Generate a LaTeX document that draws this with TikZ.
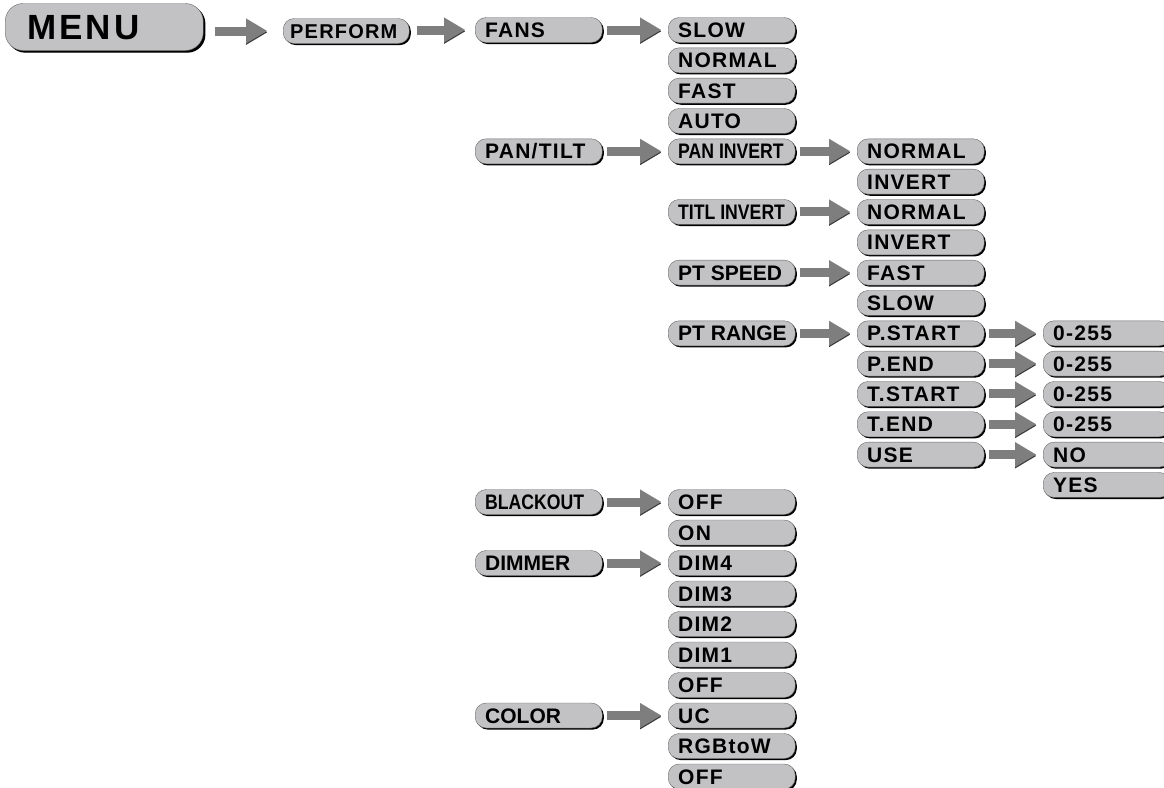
\documentclass[tikz,border=0pt]{standalone}
\usepackage{fontspec}
\setmainfont{Liberation Sans}
\newfontfamily\itemfont[LetterSpace=6]{Liberation Sans}
\newfontfamily\plainfont{Liberation Sans}
\newfontfamily\narrowfont[FakeStretch=0.84]{Liberation Sans}
\newfontfamily\menufont[LetterSpace=9]{Liberation Sans}
\usetikzlibrary{
  arrows.meta,
  shadows
}
\definecolor{boxgray}{RGB}{194,194,196}
\definecolor{arrowgray}{RGB}{126,126,126}
\tikzset{
  % Shared values used by the styles below.
  globals/box width/.initial=107pt,
  globals/box height/.initial=25pt,
%
  % For all menu entries: a grey pill with a dark shadow.  The text sits
  % left in a fixed box, so it never wraps.
  menu box/.style={
    draw=black!60,
    line width=0.4pt,
    fill=boxgray,
    rounded corners=11pt,
    anchor=west,
    inner xsep=10pt,
    inner ysep=0pt,
    minimum height=\pgfkeysvalueof{/tikz/globals/box height},
    execute at begin node={%
      \hbox to \pgfkeysvalueof{/tikz/globals/box width}\bgroup},
    execute at end node={\hss\egroup},
    text height=15pt,
    text depth=0pt,
    drop shadow={shadow xshift=1.6pt,
                 shadow yshift=-1.6pt,
                 fill=black,
                 opacity=1}},
%
  % Wide lettering.
  item/.style={
    menu box,
    font={\itemfont\bfseries\fontsize{21pt}{24pt}\selectfont}},
%
  % Plain lettering.
  tight/.style={
    menu box,
    font={\plainfont\bfseries\fontsize{21pt}{24pt}\selectfont}},
%
  % Condensed lettering.
  narrow/.style={
    menu box,
    font={\narrowfont\bfseries\fontsize{21pt}{24pt}\selectfont}},
%
  % For the big top entry.
  title/.style={
    menu box,
    rounded corners=18pt,
    inner xsep=22pt,
    globals/box width=154pt,
    minimum height=47pt,
    text height=25pt,
    drop shadow={shadow xshift=2.2pt,
                 shadow yshift=-2.2pt,
                 fill=black,
                 opacity=1},
    font={\menufont\bfseries\fontsize{35pt}{38pt}\selectfont}},
%
  % For the fat grey arrows.
  go/.style={
    draw=arrowgray,
    line width=9pt,
    -{Triangle[length=21pt,width=25pt,line width=0.1pt]},
    shorten <=5pt,
    shorten >=7pt,
    preaction={draw=black!80,
               transform canvas={yshift=-1.3pt}}}
}

\begin{document}
\begin{tikzpicture}[x=1pt,y=-1pt]
  \useasboundingbox (0,0) rectangle (1164,787);

  % Column positions (left edges).
  \def\colA{283}
  \def\colB{475}
  \def\colC{668}
  \def\colD{857}
  \def\colE{1043}

  \node[title] (menu) at (5,27) {MENU};
  \node[item, font={\itemfont\bfseries\fontsize{20pt}{24pt}\selectfont},
        inner xsep=7pt, globals/box width=112pt] (perform) at (\colA,31) {PERFORM};

  % Upper block, rows 30.33 apart.
  \node[item] (fans)    at (\colB,{30+30.33*0}) {FANS};
  \node[item] (pantilt) at (\colB,{30+30.33*4}) {PAN/TILT};

  \foreach \name/\txt [count=\i from 0] in
      {fslow/SLOW, fnormal/NORMAL, ffast/FAST, fauto/AUTO}
    {\node[item] (\name) at (\colC,{30+30.33*\i}) {\txt};}

  \node[narrow] (paninv)  at (\colC,{30+30.33*4})  {PAN INVERT};
  \node[narrow] (tiltinv) at (\colC,{30+30.33*6})  {TITL INVERT};
  \node[tight]  (ptspeed) at (\colC,{30+30.33*8})  {PT SPEED};
  \node[tight]  (ptrange) at (\colC,{30+30.33*10}) {PT RANGE};

  \foreach \name/\txt/\r in
      {pnormal/NORMAL/4, pinvert/INVERT/5,
       tnormal/NORMAL/6, tinvert/INVERT/7,
       sfast/FAST/8, sslow/SLOW/9,
       pstart/P.START/10, pend/P.END/11,
       tstart/T.START/12, tend/T.END/13,
       use/USE/14}
    {\node[item] (\name) at (\colD,{30+30.33*\r}) {\txt};}

  \foreach \name/\txt/\r in
      {vpstart/0-255/10, vpend/0-255/11,
       vtstart/0-255/12, vtend/0-255/13,
       useno/NO/14, useyes/YES/15}
    {\node[item] (\name) at (\colE,{30+30.33*\r}) {\txt};}

  % Lower block, rows 30.5 apart.
  \node[narrow] (blackout) at (\colB,{502+30.5*0}) {BLACKOUT};
  \node[tight]  (dimmer)   at (\colB,{502+30.5*2}) {DIMMER};
  \node[tight]  (color)    at (\colB,{502+30.5*7}) {COLOR};

  \foreach \name/\txt [count=\j from 0] in
      {boff/OFF, bon/ON, dfour/DIM4, dthree/DIM3, dtwo/DIM2,
       done/DIM1, doff/OFF, cuc/UC, crgb/RGBtoW, coff/OFF}
    {\node[item] (\name) at (\colC,{502+30.5*\j}) {\txt};}

  % Arrows.
  \draw[go, shorten <=12pt, shorten >=16pt]
    (menu.east |- perform.west) -- (perform.west);
  \draw[go, shorten <=8pt, shorten >=10pt] (perform.east |- fans.west) -- (fans.west);
  \foreach \a/\b in {fans/fslow, pantilt/paninv, paninv/pnormal,
                     tiltinv/tnormal, ptspeed/sfast, ptrange/pstart,
                     pstart/vpstart, pend/vpend, tstart/vtstart,
                     tend/vtend, use/useno, blackout/boff,
                     dimmer/dfour, color/cuc}
    {\draw[go] (\a.east) -- (\b.west);}
\end{tikzpicture}
\end{document}
